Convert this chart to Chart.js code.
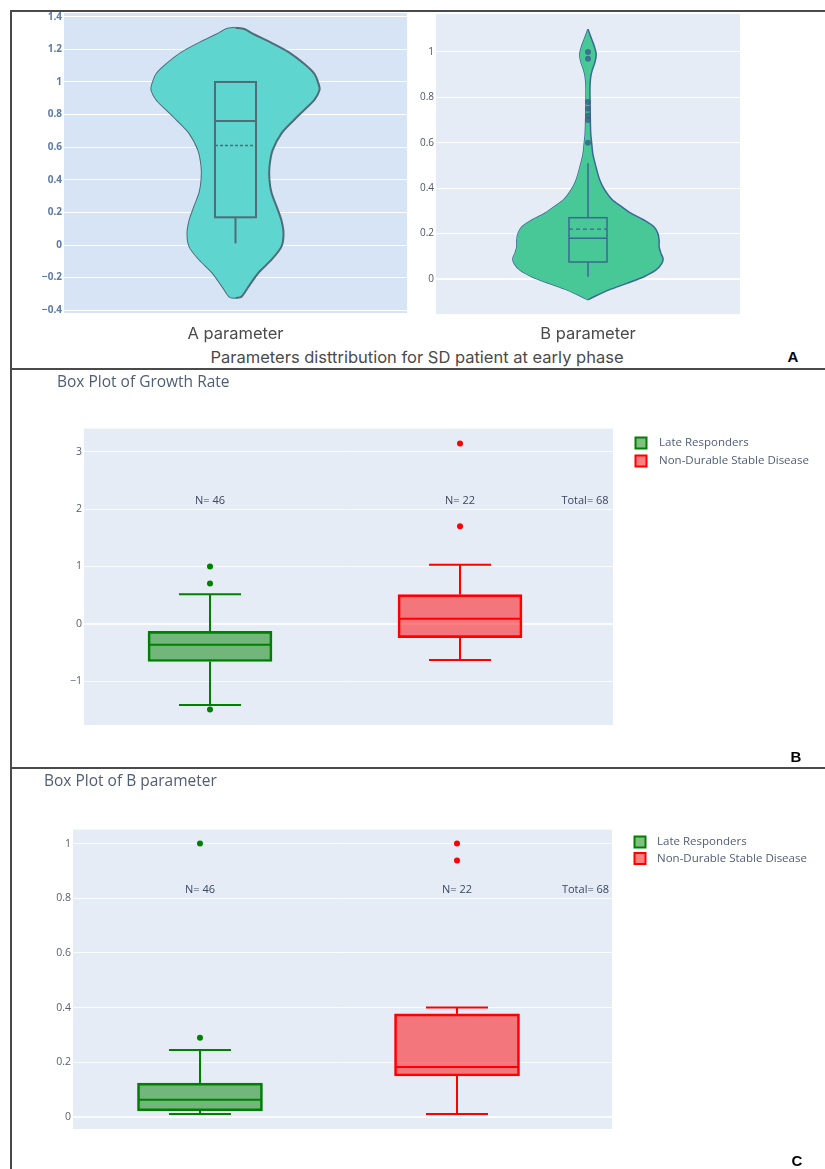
<!DOCTYPE html>
<html>
<head>
<meta charset="utf-8">
<script src="https://cdn.jsdelivr.net/npm/chart.js@4.4.1/dist/chart.umd.min.js"></script>
<style>
  body { margin: 0; background: #fff; }
  #page { position: relative; width: 825px; height: 1169px; overflow: hidden; background: #fff; }
  canvas { position: absolute; }
  .rule { position: absolute; background: #4a4a4a; }
  .txt { position: absolute; white-space: nowrap; transform: translateX(-50%); }
  .caption { font-family: Inter, "Noto Sans", sans-serif; font-size: 16.5px; color: #4a4a4a; line-height: 20px; }
  .panel { font-family: "Liberation Sans", Arial, sans-serif; font-weight: bold; font-size: 15px; color: #000; line-height: 18px; }
</style>
</head>
<body>
<div id="page">
  <div class="rule" style="left:10px; top:10px; width:815px; height:1.5px;"></div>
  <div class="rule" style="left:10px; top:10px; width:1.5px; height:1159px;"></div>
  <div class="rule" style="left:10px; top:368px; width:815px; height:1.5px;"></div>
  <div class="rule" style="left:10px; top:767px; width:815px; height:1.5px;"></div>

  <canvas id="violinA" width="412" height="345" style="left:0; top:0; width:412px; height:345px;"></canvas>
  <canvas id="violinB" width="413" height="346" style="left:412px; top:0; width:413px; height:346px;"></canvas>
  <canvas id="growthBox" width="825" height="398" style="left:0; top:370px; width:825px; height:398px;"></canvas>
  <canvas id="bParamBox" width="825" height="401" style="left:0; top:768px; width:825px; height:401px;"></canvas>

  <div class="txt caption" style="left:417px; top:347px;">Parameters disttribution for SD patient at early phase</div>
  <div class="txt panel" style="left:793px; top:348px;">A</div>
  <div class="txt panel" style="left:796px; top:748px;">B</div>
  <div class="txt panel" style="left:797px; top:1152px;">C</div>
</div>

<script>
// ---- data ----
var violinALevels = [-0.325, -0.317, -0.255, -0.17, -0.09, -0.01, 0.07, 0.15, 0.235, 0.32, 0.40, 0.48, 0.58, 0.685, 0.77, 0.83, 0.89, 0.95, 0.99, 1.05, 1.11, 1.18, 1.24, 1.30, 1.325, 1.333];
var violinAWidths = [0, 0.0175, 0.038, 0.067, 0.105, 0.134, 0.14, 0.134, 0.12, 0.105, 0.099, 0.099, 0.108, 0.134, 0.172, 0.201, 0.23, 0.245, 0.242, 0.23, 0.201, 0.157, 0.105, 0.047, 0.026, 0];
var violinABox = [0.01, 0.17, 0.76, 1.0, 1.0];   // lower whisker, q1, median, q3, upper whisker
var violinAMean = 0.61;

var violinBLevels = [-0.092, -0.078, -0.048, -0.019, 0.01, 0.04, 0.069, 0.09, 0.113, 0.142, 0.17, 0.2, 0.23, 0.26, 0.29, 0.32, 0.35, 0.39, 0.435, 0.495, 0.55, 0.6, 0.64, 0.715, 0.79, 0.85, 0.89, 0.92, 0.955, 0.99, 1.02, 1.06, 1.10];
var violinBWidths = [0, 0.02, 0.069, 0.128, 0.184, 0.224, 0.243, 0.247, 0.24, 0.234, 0.234, 0.23, 0.217, 0.184, 0.141, 0.109, 0.079, 0.056, 0.039, 0.026, 0.016, 0.012, 0.009, 0.0075, 0.0066, 0.0066, 0.009, 0.014, 0.023, 0.027, 0.022, 0.011, 0];
var violinBBox = [0.01, 0.075, 0.18, 0.27, 0.51];
var violinBMean = 0.22;
var violinBOutliers = [0.60, 0.70, 0.72, 0.75, 0.78, 0.97, 1.0];

var groupNames = ["Late Responders", "Non-Durable Stable Disease"];
var groupCounts = [46, 22];

var growthLate = [-1.41, -0.655, -0.365, -0.13, 0.515];
var growthLateOutliers = [-1.49, 0.705, 1.0];
var growthNonDurable = [-0.63, -0.24, 0.09, 0.51, 1.03];
var growthNonDurableOutliers = [1.70, 3.14];

var bLate = [0.011, 0.022, 0.063, 0.124, 0.245];
var bLateOutliers = [0.29, 1.0];
var bNonDurable = [0.011, 0.15, 0.183, 0.377, 0.40];
var bNonDurableOutliers = [0.938, 1.0];

var violinATicks = [-0.4, -0.2, 0, 0.2, 0.4, 0.6, 0.8, 1, 1.2, 1.4];
var violinBTicks = [0, 0.2, 0.4, 0.6, 0.8, 1];
var growthTicks = [-1, 0, 1, 2, 3];
var bParamTicks = [0, 0.2, 0.4, 0.6, 0.8, 1];

// ---- plugins ----
Chart.defaults.font.family = "'Open Sans', sans-serif";

var plotBackground = {
  id: "plotBackground",
  beforeDraw: function (chart, args, opts) {
    if (!opts.color) return;
    var a = chart.chartArea;
    var ctx = chart.ctx;
    ctx.save();
    ctx.fillStyle = opts.color;
    ctx.fillRect(a.left, a.top, a.right - a.left, a.bottom - a.top);
    ctx.restore();
  }
};

function strokeLine(ctx, x1, y1, x2, y2) {
  ctx.beginPath();
  ctx.moveTo(x1, y1);
  ctx.lineTo(x2, y2);
  ctx.stroke();
}

var boxWhisker = {
  id: "boxWhisker",
  afterDatasetsDraw: function (chart, args, opts) {
    var items = opts.items || [];
    var xs = chart.scales.x;
    var ys = chart.scales.y;
    var ctx = chart.ctx;
    items.forEach(function (it) {
      var s = it.stats;
      var cx = xs.getPixelForValue(it.x);
      var lo = ys.getPixelForValue(s[0]);
      var q1 = ys.getPixelForValue(s[1]);
      var med = ys.getPixelForValue(s[2]);
      var q3 = ys.getPixelForValue(s[3]);
      var hi = ys.getPixelForValue(s[4]);
      var half = it.boxHalf;
      ctx.save();
      ctx.strokeStyle = it.color;
      ctx.lineWidth = it.lineWidth;
      if (it.drawBox) ctx.strokeRect(cx - half, q3, half * 2, q1 - q3);
      strokeLine(ctx, cx - half, med, cx + half, med);
      if (s[4] > s[3]) {
        strokeLine(ctx, cx, q3, cx, hi);
        if (it.capHalf) strokeLine(ctx, cx - it.capHalf, hi, cx + it.capHalf, hi);
      }
      if (s[0] < s[1]) {
        strokeLine(ctx, cx, q1, cx, lo);
        if (it.capHalf) strokeLine(ctx, cx - it.capHalf, lo, cx + it.capHalf, lo);
      }
      if (it.mean !== undefined) {
        var mp = ys.getPixelForValue(it.mean);
        ctx.setLineDash(it.dash || [3, 2]);
        ctx.lineWidth = it.lineWidth * 0.8;
        strokeLine(ctx, cx - half, mp, cx + half, mp);
      }
      ctx.restore();
    });
  }
};

var textNotes = {
  id: "textNotes",
  afterDatasetsDraw: function (chart, args, opts) {
    var notes = opts.items || [];
    var ctx = chart.ctx;
    ctx.save();
    ctx.font = (opts.size || 10) + "px 'Open Sans', sans-serif";
    ctx.fillStyle = opts.color || "#2a3f5f";
    ctx.textAlign = "center";
    ctx.textBaseline = "middle";
    notes.forEach(function (n) {
      ctx.fillText(n.text, chart.scales.x.getPixelForValue(n.x), chart.scales.y.getPixelForValue(n.y));
    });
    ctx.restore();
  }
};

var sideLegend = {
  id: "sideLegend",
  afterDraw: function (chart, args, opts) {
    if (opts.x === undefined) return;
    var ctx = chart.ctx;
    var row = 0;
    ctx.save();
    ctx.font = (opts.size || 11) + "px 'Open Sans', sans-serif";
    ctx.textBaseline = "middle";
    chart.data.datasets.forEach(function (ds) {
      if (ds.type === "scatter") return;
      var cy = opts.y + row * opts.gap;
      var b = opts.box;
      ctx.fillStyle = ds.backgroundColor;
      ctx.fillRect(opts.x - b / 2, cy - b / 2, b, b);
      ctx.strokeStyle = ds.borderColor;
      ctx.lineWidth = 2;
      ctx.strokeRect(opts.x - b / 2, cy - b / 2, b, b);
      ctx.fillStyle = opts.color;
      ctx.fillText(ds.label, opts.textX, cy);
      row++;
    });
    ctx.restore();
  }
};

Chart.register(plotBackground, boxWhisker, textNotes, sideLegend);

function fixedTicks(values) {
  return function (scale) {
    scale.ticks = values.map(function (v) { return { value: v }; });
  };
}

function minusLabel(v) {
  return String(v).replace("-", "\u2212");
}

function zeroWide(ctx) {
  return ctx.tick && ctx.tick.value === 0 ? 2 : 1;
}

// ---- violins ----
function makeViolin(id, o) {
  var left = o.levels.map(function (v, i) { return { x: -o.widths[i], y: v }; });
  var right = o.levels.map(function (v, i) { return { x: o.widths[i], y: v }; });
  var datasets = [
    { data: left, borderColor: o.line, borderWidth: o.lineWidth, pointRadius: 0, tension: 0.3, fill: false, order: 2 },
    { data: right, borderColor: o.line, borderWidth: o.lineWidth, pointRadius: 0, tension: 0.3, fill: "-1", backgroundColor: o.fill, order: 1 }
  ];
  if (o.outliers) {
    datasets.push({
      type: "scatter",
      data: o.outliers.map(function (v) { return { x: 0, y: v }; }),
      pointRadius: 3,
      pointBorderWidth: 0,
      backgroundColor: o.pointColor,
      order: 0
    });
  }
  return new Chart(document.getElementById(id), {
    type: "line",
    data: { datasets: datasets },
    options: {
      responsive: false,
      animation: false,
      indexAxis: "y",
      layout: { padding: o.padding },
      plugins: {
        legend: { display: false },
        tooltip: { enabled: false },
        plotBackground: { color: o.bg },
        boxWhisker: {
          items: [{ x: 0, stats: o.box, mean: o.mean, boxHalf: o.boxHalf, color: o.line, lineWidth: o.lineWidth, drawBox: true, dash: o.dash }]
        }
      },
      scales: {
        x: {
          type: "linear",
          min: -0.5,
          max: 0.5,
          grid: { display: false },
          border: { display: false },
          ticks: { display: false },
          title: {
            display: true,
            text: o.label,
            font: { family: "Inter, 'Noto Sans', sans-serif", size: 16.5 },
            color: "#4a4a4a",
            padding: { top: 0, bottom: o.labelPad }
          },
          afterFit: function (scale) { scale.height = 32; }
        },
        y: {
          type: "linear",
          min: o.yMin,
          max: o.yMax,
          afterBuildTicks: fixedTicks(o.ticks),
          afterFit: function (scale) { scale.width = o.axisWidth; },
          grid: { color: "#ffffff", lineWidth: o.zeroWide ? zeroWide : 1, drawTicks: false },
          border: { display: false },
          ticks: { padding: 2, font: o.tickFont, color: o.tickColor, callback: minusLabel }
        }
      }
    }
  });
}

makeViolin("violinA", {
  levels: violinALevels, widths: violinAWidths, box: violinABox, mean: violinAMean,
  fill: "#5fd5cf", line: "#4e6d78", lineWidth: 2, boxHalf: 20.5, dash: [3, 2],
  bg: "#d7e4f6", yMin: -0.417, yMax: 1.423, ticks: violinATicks,
  padding: { left: 0, right: 5, top: 13, bottom: 0 }, axisWidth: 64,
  tickFont: { size: 10, weight: "bold" }, tickColor: "#5b79a9",
  label: "A parameter", labelPad: 1, zeroWide: false
});

makeViolin("violinB", {
  levels: violinBLevels, widths: violinBWidths, box: violinBBox, mean: violinBMean,
  outliers: violinBOutliers, pointColor: "rgba(55,95,135,0.8)",
  fill: "#48c896", line: "#3b6796", lineWidth: 1.5, boxHalf: 19, dash: [4, 3],
  bg: "#e5ecf6", yMin: -0.154, yMax: 1.167, ticks: violinBTicks,
  padding: { left: 0, right: 85, top: 14, bottom: 0 }, axisWidth: 24,
  tickFont: { size: 10 }, tickColor: "#4d5566",
  label: "B parameter", labelPad: 2, zeroWide: true
});

// ---- box plots ----
function makeBoxPlot(id, o) {
  var colors = [
    { line: "green", fill: "rgba(0,128,0,0.5)" },
    { line: "red", fill: "rgba(255,0,0,0.5)" }
  ];
  var datasets = [];
  var items = [];
  o.stats.forEach(function (s, i) {
    datasets.push({
      type: "bar",
      label: groupNames[i],
      data: [{ x: i, y: [s[1], s[3]] }],
      backgroundColor: colors[i].fill,
      borderColor: colors[i].line,
      borderWidth: 2,
      borderSkipped: false,
      barThickness: o.boxWidth,
      grouped: false
    });
    items.push({ x: i, stats: s, boxHalf: o.boxWidth / 2 - 1, capHalf: o.capHalf, color: colors[i].line, lineWidth: 2, drawBox: false });
  });
  o.outliers.forEach(function (pts, i) {
    datasets.push({
      type: "scatter",
      data: pts.map(function (v) { return { x: i, y: v }; }),
      pointRadius: 3,
      pointBorderWidth: 0,
      backgroundColor: colors[i].line
    });
  });
  var notes = groupCounts.map(function (n, i) { return { x: i, y: o.noteY, text: "N= " + n }; });
  var total = groupCounts.reduce(function (a, b) { return a + b; }, 0);
  notes.push({ x: 1.5, y: o.noteY, text: "Total= " + total });

  return new Chart(document.getElementById(id), {
    type: "bar",
    data: { datasets: datasets },
    options: {
      responsive: false,
      animation: false,
      layout: { padding: o.padding },
      plugins: {
        legend: { display: false },
        tooltip: { enabled: false },
        title: {
          display: true,
          text: o.title,
          align: "start",
          color: "#4f5d75",
          font: { size: 15.5, weight: "normal" },
          padding: { top: o.titleTop, bottom: o.titleBottom }
        },
        plotBackground: { color: "#e5ecf6" },
        boxWhisker: { items: items },
        textNotes: { items: notes, size: 11, color: "#3a4760" },
        sideLegend: { x: o.legendX, y: o.legendY, gap: o.legendGap, box: 11, textX: o.legendTextX, color: "#4f5d75", size: 11.5 }
      },
      scales: {
        x: {
          type: "linear",
          min: o.xMin,
          max: o.xMax,
          offset: false,
          display: false
        },
        y: {
          type: "linear",
          min: o.yMin,
          max: o.yMax,
          afterBuildTicks: fixedTicks(o.ticks),
          afterFit: function (scale) { scale.width = o.axisWidth; },
          grid: { color: "rgba(255,255,255,0.85)", lineWidth: zeroWide, drawTicks: false },
          border: { display: false },
          ticks: { padding: 2, font: { size: 10.5 }, color: "#555e6e", callback: minusLabel }
        }
      }
    }
  });
}

makeBoxPlot("growthBox", {
  title: "Box Plot of Growth Rate",
  stats: [growthLate, growthNonDurable],
  outliers: [growthLateOutliers, growthNonDurableOutliers],
  ticks: growthTicks, yMin: -1.76, yMax: 3.40, xMin: -0.504, xMax: 1.612,
  noteY: 2.15, boxWidth: 124, capHalf: 31,
  padding: { left: 57, right: 212, top: 0, bottom: 43 }, axisWidth: 27,
  titleTop: 3, titleBottom: 37,
  legendX: 641, legendY: 73, legendGap: 18, legendTextX: 659
});

makeBoxPlot("bParamBox", {
  title: "Box Plot of B parameter",
  stats: [bLate, bNonDurable],
  outliers: [bLateOutliers, bNonDurableOutliers],
  ticks: bParamTicks, yMin: -0.044, yMax: 1.051, xMin: -0.494, xMax: 1.603,
  noteY: 0.83, boxWidth: 125, capHalf: 31,
  padding: { left: 44, right: 213, top: 0, bottom: 40 }, axisWidth: 29,
  titleTop: 4, titleBottom: 39,
  legendX: 640, legendY: 74, legendGap: 16.5, legendTextX: 657
});
</script>
</body>
</html>
